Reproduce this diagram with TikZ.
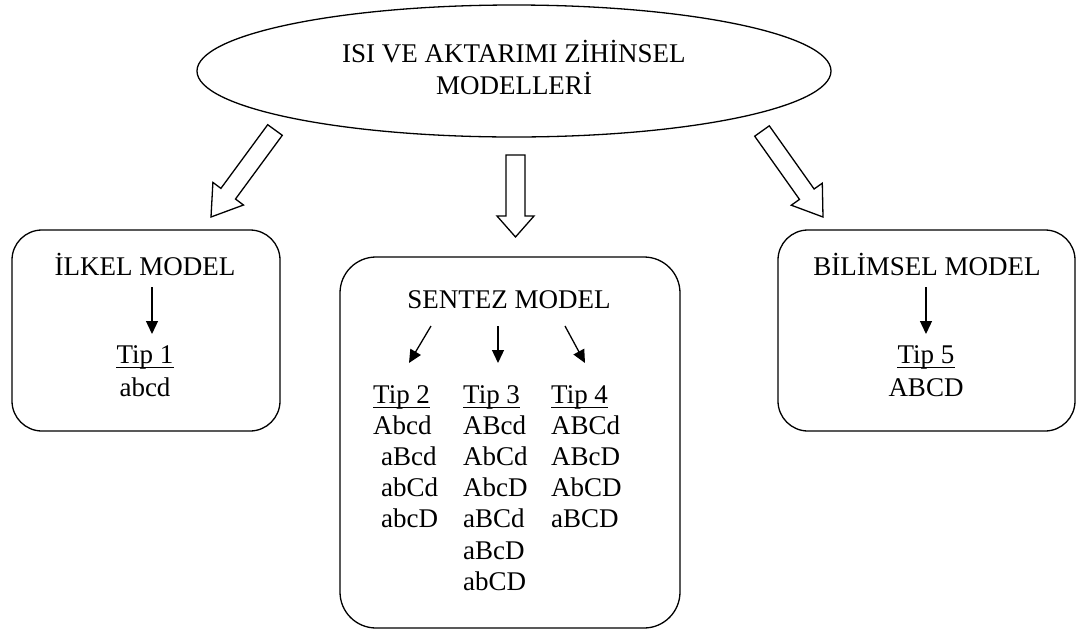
\documentclass[tikz,border=0pt]{standalone}
\usepackage{fontspec}
\setmainfont{Liberation Serif}
\usetikzlibrary{shapes.geometric,arrows.meta}
\begin{document}
\begin{tikzpicture}[x=1pt,y=-1pt,
  txt/.style={inner sep=0pt,anchor=base,font=\fontsize{27}{31}\selectfont},
  txtw/.style={inner sep=0pt,anchor=base west,font=\fontsize{27}{31}\selectfont},
  roundbox/.style={draw,line width=1.3pt,rounded corners=#1},
  blockarrow/.style={draw,line width=1.3pt,line join=miter,fill=white},
  smallarrow/.style={line width=1.3pt,-{Triangle[length=13pt,width=12pt]}},
  uline/.style={line width=1pt}
]
\useasboundingbox (0,0) rectangle (1080,630);

% top ellipse
\node[draw,ellipse,line width=1.3pt,minimum width=634pt,minimum height=132pt,inner sep=0pt] (top) at (514,71) {};
\node[txt] (t1) at (514,62) {ISI VE AKTARIMI ZİHİNSEL};
\node[txt] (t2) at (514,94) {MODELLERİ};

% block arrows
\draw[blockarrow] (282.3,135.3) -- (235.5,199.0) -- (243.5,205.0) -- (211,217) -- (212.9,182.4) -- (220.9,188.4) -- (267.7,124.7) -- cycle;
\draw[blockarrow] (525,155) -- (525,216) -- (534,216) -- (515.5,237) -- (497,216) -- (506,216) -- (506,155) -- cycle;
\draw[blockarrow] (769.3,125.8) -- (814.1,189.0) -- (822.3,183.2) -- (823,217) -- (791.3,205.2) -- (799.5,199.4) -- (754.7,136.2) -- cycle;

% boxes
\draw[roundbox=30pt] (12,230) rectangle (280,431);
\draw[roundbox=36pt] (340,257) rectangle (680,628);
\draw[roundbox=30pt] (778,230) rectangle (1075,431);

% left box
\node[txt] (ilkel) at (145,275) {İLKEL MODEL};
\coordinate (ilkelA) at (152,287);
\coordinate (ilkelB) at (152,334);
\draw[smallarrow] (ilkelA) -- (ilkelB);
\node[txt] (tip1) at (145,363) {Tip 1};
\draw[uline] ([yshift=-4pt]tip1.base west) -- ([yshift=-4pt]tip1.base east);
\node[txt] (abcd1) at (145,396) {abcd};

% right box
\node[txt] (bilimsel) at (927,275) {BİLİMSEL MODEL};
\coordinate (bilA) at (926,287);
\coordinate (bilB) at (926,334);
\draw[smallarrow] (bilA) -- (bilB);
\node[txt] (tip5) at (926,363) {Tip 5};
\draw[uline] ([yshift=-4pt]tip5.base west) -- ([yshift=-4pt]tip5.base east);
\node[txt] (ABCD5) at (926,396) {ABCD};

% middle box
\node[txt] (sentez) at (509,308) {SENTEZ MODEL};
\coordinate (sA1) at (431,326);
\coordinate (sB1) at (409,363);
\coordinate (sA2) at (498,326);
\coordinate (sB2) at (498,363);
\coordinate (sA3) at (565,326);
\coordinate (sB3) at (585,363);
\draw[smallarrow] (sA1) -- (sB1);
\draw[smallarrow] (sA2) -- (sB2);
\draw[smallarrow] (sA3) -- (sB3);

\node[txtw] (tip2) at (373,403) {Tip 2};
\node[txtw] (tip3) at (463,403) {Tip 3};
\node[txtw] (tip4) at (551,403) {Tip 4};
\foreach \n in {tip2,tip3,tip4}
  \draw[uline] ([yshift=-4pt]\n.base west) -- ([yshift=-4pt]\n.base east);

\node[txtw] (c2a) at (373,434) {Abcd};
\node[txtw] (c2b) at (381,465) {aBcd};
\node[txtw] (c2c) at (381,496) {abCd};
\node[txtw] (c2d) at (381,527) {abcD};

\node[txtw] (c3a) at (463,434) {ABcd};
\node[txtw] (c3b) at (463,465) {AbCd};
\node[txtw] (c3c) at (463,496) {AbcD};
\node[txtw] (c3d) at (463,527) {aBCd};
\node[txtw] (c3e) at (463,559) {aBcD};
\node[txtw] (c3f) at (463,590) {abCD};

\node[txtw] (c4a) at (551,434) {ABCd};
\node[txtw] (c4b) at (551,465) {ABcD};
\node[txtw] (c4c) at (551,496) {AbCD};
\node[txtw] (c4d) at (551,527) {aBCD};
\end{tikzpicture}
\end{document}
